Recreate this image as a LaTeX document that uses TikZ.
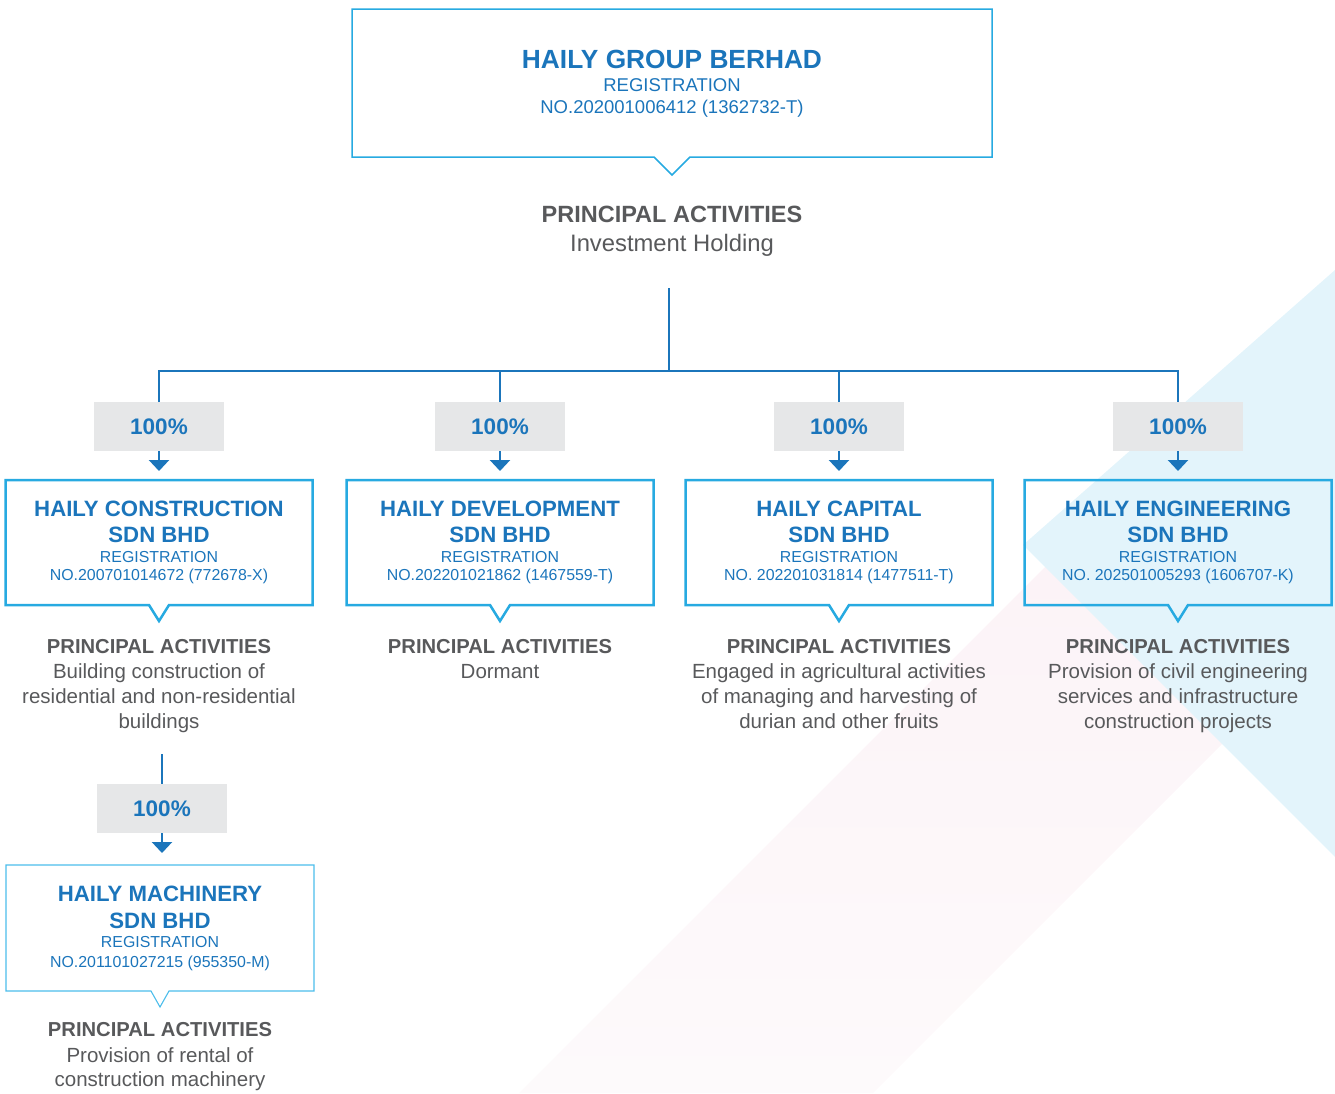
\documentclass[tikz,border=0pt]{standalone}
\usepackage{fontspec}
\setmainfont{Liberation Sans}
\usetikzlibrary{arrows.meta}
\definecolor{hblue}{HTML}{1B75BB}
\definecolor{hcyan}{HTML}{27AAE1}
\definecolor{hcyanl}{HTML}{4CBDEB}
\definecolor{hgray}{HTML}{58595B}
\definecolor{pbox}{HTML}{E6E7E8}
\definecolor{bgblue}{HTML}{E3F4FB}
\definecolor{bgpinka}{HTML}{FCF3F7}
\definecolor{bgpinkb}{HTML}{FDFAFB}
\newcommand\subco[7]{%
 \node[sbox] (#1) at (#2,542.5) {};
 \draw[sline] (#1.south west) -- ([xshift=-10pt]#1.south) -- ([yshift=-16pt]#1.south) -- ([xshift=10pt]#1.south) -- (#1.south east) -- (#1.north east) -- (#1.north west) -- cycle;
 \node[stitle] (#1a) at (#2,516) {#3};
 \node[stitle] (#1b) at (#2,542.5) {SDN BHD};
 \node[sreg] (#1c) at (#2,562) {REGISTRATION};
 \node[sreg] (#1d) at (#2,580.5) {#4};
 \node[pahead] (#1e) at (#2,653) {PRINCIPAL ACTIVITIES};
 \node[patext] (#1f) at (#2,678) {#5};
 \node[patext] (#1g) at (#2,703) {#6};
 \node[patext] (#1h) at (#2,728) {#7};
}
\begin{document}
\begin{tikzpicture}[x=1pt,y=-1pt,
  conn/.style={draw=hblue,line width=2.4pt},
  arr/.style={conn,-{Triangle[width=20pt,length=11pt]}},
  pct/.style={fill=pbox,minimum width=130pt,minimum height=49pt,inner sep=0pt,outer sep=0pt,
     text=hblue,font=\fontsize{22.5}{26}\bfseries\selectfont,text depth=0pt},
  sbox/.style={minimum width=307pt,minimum height=125pt,inner sep=0pt,outer sep=0pt},
  sline/.style={draw=hcyan,line width=2.5pt,line join=miter},
  stitle/.style={anchor=base,inner sep=0pt,text=hblue,font=\fontsize{22.2}{26}\bfseries\selectfont},
  sreg/.style={anchor=base,inner sep=0pt,text=hblue,font=\fontsize{15.9}{19}\selectfont},
  pahead/.style={anchor=base,inner sep=0pt,text=hgray,font=\fontsize{20.2}{24}\bfseries\selectfont},
  patext/.style={anchor=base,inner sep=0pt,text=hgray,font=\fontsize{20.5}{24}\selectfont}]
\useasboundingbox (0,0) rectangle (1335,1093);
% background
\begin{scope}
\clip (0,0) rectangle (1335,1093);
\shade[top color=bgpinka,bottom color=bgpinkb] (1052,560) -- (1406,560) -- (873,1093) -- (519,1093) -- cycle;
\fill[bgblue] (1335,270) -- (1335,857) -- (1023,545) -- cycle;
\end{scope}
% top company
\node[minimum width=640pt,minimum height=148pt,inner sep=0pt,outer sep=0pt] (top) at (672,83) {};
\draw[draw=hcyan,line width=1.5pt] (top.south west) -- ([xshift=-18pt]top.south) -- ([yshift=-18pt]top.south) -- ([xshift=18pt]top.south) -- (top.south east) -- (top.north east) -- (top.north west) -- cycle;
\node[anchor=base,inner sep=0pt,text=hblue,font=\fontsize{26.3}{30}\bfseries\selectfont] (topa) at (672,68.5) {HAILY GROUP BERHAD};
\node[anchor=base,inner sep=0pt,text=hblue,font=\fontsize{18.5}{22}\selectfont] (topb) at (672,91) {REGISTRATION};
\node[anchor=base,inner sep=0pt,text=hblue,font=\fontsize{18.5}{22}\selectfont] (topc) at (672,113) {NO.202001006412 (1362732-T)};
\node[anchor=base,inner sep=0pt,text=hgray,font=\fontsize{23.5}{28}\bfseries\selectfont] (topd) at (672,222) {PRINCIPAL ACTIVITIES};
\node[anchor=base,inner sep=0pt,text=hgray,font=\fontsize{23.8}{28}\selectfont] (tope) at (672,251) {Investment Holding};
% percentage boxes
\node[pct] (p1) at (159,426.5) {100\%};
\node[pct] (p2) at (500,426.5) {100\%};
\node[pct] (p3) at (839,426.5) {100\%};
\node[pct] (p4) at (1178,426.5) {100\%};
% connectors
\coordinate (t0) at (669,288);
\coordinate (j) at (669,371);
\draw[conn] (t0) -- (j);
\draw[conn] (p1.north) -- (p1.north |- j) -- (p4.north |- j) -- (p4.north);
\draw[conn] (p2.north) -- (p2.north |- j);
\draw[conn] (p3.north) -- (p3.north |- j);
% subsidiaries
\subco{c1}{159}{HAILY CONSTRUCTION}{NO.200701014672 (772678-X)}{Building construction of}{residential and non-residential}{buildings}
\subco{c2}{500}{HAILY DEVELOPMENT}{NO.202201021862 (1467559-T)}{Dormant}{}{}
\subco{c3}{839}{HAILY CAPITAL}{NO. 202201031814 (1477511-T)}{Engaged in agricultural activities}{of managing and harvesting of}{durian and other fruits}
\subco{c4}{1178}{HAILY ENGINEERING}{NO. 202501005293 (1606707-K)}{Provision of civil engineering}{services and infrastructure}{construction projects}
\draw[arr] (p1.south) -- ([yshift=9pt]c1.north);
\draw[arr] (p2.south) -- ([yshift=9pt]c2.north);
\draw[arr] (p3.south) -- ([yshift=9pt]c3.north);
\draw[arr] (p4.south) -- ([yshift=9pt]c4.north);
% machinery
\coordinate (m0) at (162,754);
\node[pct] (p5) at (162,808.8) {100\%};
\draw[conn] (m0) -- (p5.north);
\coordinate (m1) at (162,853);
\draw[arr] (p5.south) -- (m1);
\node[minimum width=308pt,minimum height=126pt,inner sep=0pt,outer sep=0pt] (m) at (160,928) {};
\draw[draw=hcyanl,line width=1.1pt] (m.south west) -- ([xshift=-9pt]m.south) -- ([yshift=-16pt]m.south) -- ([xshift=9pt]m.south) -- (m.south east) -- (m.north east) -- (m.north west) -- cycle;
\node[stitle] (ma) at (160,901) {HAILY MACHINERY};
\node[stitle] (mb) at (160,928.5) {SDN BHD};
\node[sreg] (mc) at (160,947.5) {REGISTRATION};
\node[sreg] (md) at (160,967) {NO.201101027215 (955350-M)};
\node[pahead] (me) at (160,1036) {PRINCIPAL ACTIVITIES};
\node[patext] (mf) at (160,1062) {Provision of rental of};
\node[patext] (mg) at (160,1086) {construction machinery};
\end{tikzpicture}
\end{document}
